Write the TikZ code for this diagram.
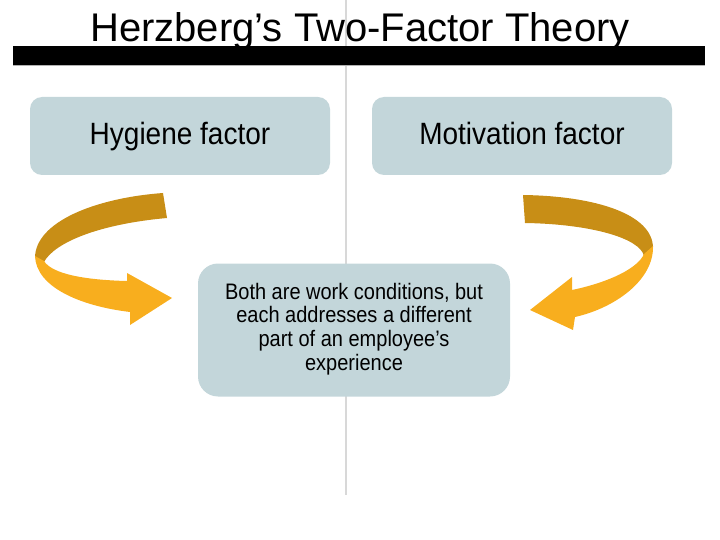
\documentclass[tikz,border=0pt]{standalone}
\usepackage{fontspec}
\setmainfont{Liberation Sans}
\definecolor{boxfill}{HTML}{C3D6DA}
\definecolor{arrdark}{HTML}{C88E16}
\definecolor{arrlight}{HTML}{F8AE1E}
\definecolor{divider}{HTML}{D8D8D8}
\begin{document}
\begin{tikzpicture}[x=1pt,y=-1pt,
  factorbox/.style={fill=boxfill, draw=none, rounded corners=12pt, minimum width=300pt, minimum height=78pt, inner sep=0pt},
  centerbox/.style={fill=boxfill, draw=none, rounded corners=20pt, minimum width=312pt, minimum height=133pt, inner sep=0pt},
  boxtext/.style={font=\fontsize{28}{32}\selectfont, inner sep=0pt, anchor=base},
  centertext/.style={font=\fontsize{20}{21.4}\selectfont, inner sep=0pt, anchor=base}]
\useasboundingbox (0,0) rectangle (720,540);
% divider line
\coordinate (ltop) at (346,0);
\coordinate (lbot) at (346,495);
\draw[divider, line width=2.5pt] (ltop) -- (lbot);
% title and bar
\node[font=\fontsize{40}{44}\selectfont, inner sep=0pt, anchor=base] (title) at (360,42) {Herzberg’s Two-Factor Theory};
\fill[black] (13,46) rectangle (705,65);
\draw[gray!60, line width=1pt] (13,65.5) -- (705,65.5);
% boxes
\node[factorbox] (hyg) at (180,136) {};
\node[boxtext] (hygt) at (180,145) {\scalebox{1}[1.1]{Hygiene factor}};
\node[factorbox] (mot) at (522,136) {};
\node[boxtext] (mott) at (522,145) {\scalebox{1}[1.1]{Motivation factor}};
\node[centerbox] (both) at (354,330) {};
\node[centertext] (botht) at (354,299) {\scalebox{1}[1.12]{\begin{tabular}[t]{@{}c@{}}Both are work conditions, but\\each addresses a different\\part of an employee’s\\experience\end{tabular}}};
% left curved arrow
\fill[arrdark] (163,193) .. controls (95,198) and (35,222) .. (35,258)
  -- (44,262) .. controls (55,242) and (100,224) .. (167,218) -- cycle;
\fill[arrlight] (35,256) .. controls (36,287) and (80,306) .. (130,312)
  -- (130,325) -- (172,298) -- (127,273) -- (127,281)
  .. controls (85,280) and (52,274) .. (44,261) -- cycle;
% right curved arrow
\fill[arrdark] (523,195) .. controls (595,196) and (653,214) .. (653,248)
  -- (644,256) .. controls (640,238) and (590,224) .. (525,223) -- cycle;
\fill[arrlight] (653,246) .. controls (654,280) and (615,308) .. (575,317)
  -- (573,330) -- (530,310) -- (572,277) -- (572,290)
  .. controls (610,282) and (638,268) .. (644,254) -- cycle;
\end{tikzpicture}
\end{document}
